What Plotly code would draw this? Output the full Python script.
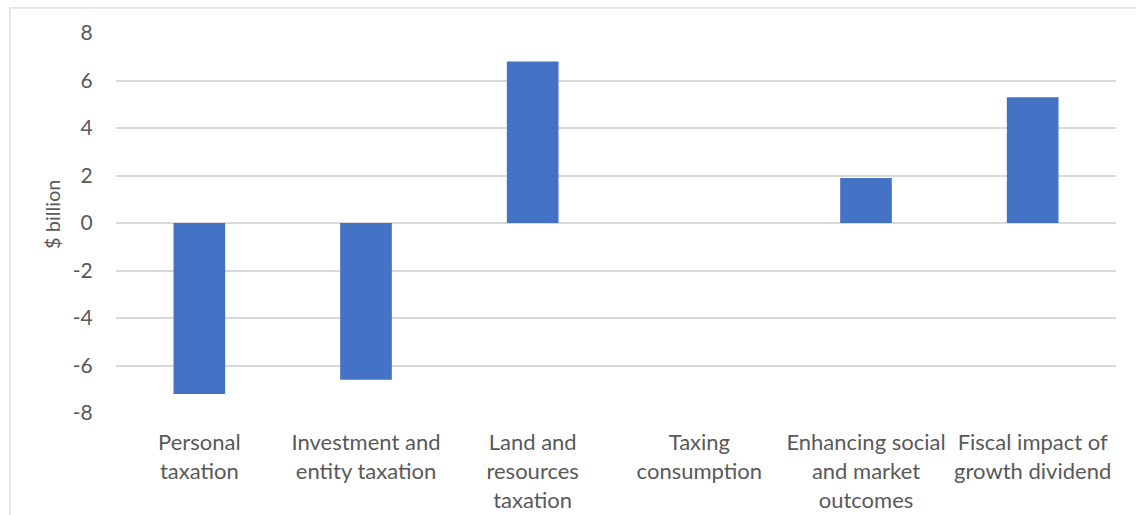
import plotly.graph_objects as go

categories = [
    "Personal<br>taxation",
    "Investment and<br>entity taxation",
    "Land and<br>resources<br>taxation",
    "Taxing<br>consumption",
    "Enhancing social<br>and market<br>outcomes",
    "Fiscal impact of<br>growth dividend",
]
values = [-7.2, -6.6, 6.8, 0.0, 1.9, 5.3]
y_ticks = [-8, -6, -4, -2, 0, 2, 4, 6, 8]

FONT = "Lato, Open Sans, sans-serif"
GREY_TEXT = "#595959"
GRID = "#d9d9d9"

fig = go.Figure(
    go.Bar(
        x=categories,
        y=values,
        marker=dict(color="#4472C4", line=dict(width=0)),
        width=0.31,
    )
)

fig.update_layout(
    width=1136,
    height=515,
    margin=dict(l=116, r=20, t=33, b=102),
    paper_bgcolor="white",
    plot_bgcolor="white",
    showlegend=False,
    font=dict(family=FONT, size=21, color=GREY_TEXT),
)

fig.update_xaxes(
    automargin=False,
    showgrid=False,
    showline=False,
    zeroline=False,
    ticks="outside",
    ticklen=10,
    tickcolor="rgba(0,0,0,0)",
    tickfont=dict(family=FONT, size=22, color=GREY_TEXT),
)

fig.update_yaxes(
    automargin=False,
    range=[-8, 8],
    tickvals=y_ticks,
    ticktext=[str(v) for v in y_ticks],
    showgrid=True,
    gridcolor=GRID,
    gridwidth=1.5,
    zeroline=True,
    zerolinecolor=GRID,
    zerolinewidth=1.5,
    showline=False,
    ticks="outside",
    ticklen=18,
    tickcolor="rgba(0,0,0,0)",
    tickfont=dict(family=FONT, size=21, color=GREY_TEXT),
)

# Axis title
fig.add_annotation(
    text="$ billion",
    xref="paper",
    yref="paper",
    x=-0.064,
    y=0.521,
    textangle=-90,
    showarrow=False,
    font=dict(family=FONT, size=20, color=GREY_TEXT),
    xanchor="center",
    yanchor="middle",
)

# Chart frame
fig.add_shape(
    type="rect",
    xref="paper",
    yref="paper",
    x0=-0.106,
    x1=1.03,
    y0=-0.3,
    y1=1.066,
    line=dict(color=GRID, width=1.2),
    fillcolor="rgba(0,0,0,0)",
    layer="below",
)

fig.write_html("out.html")
